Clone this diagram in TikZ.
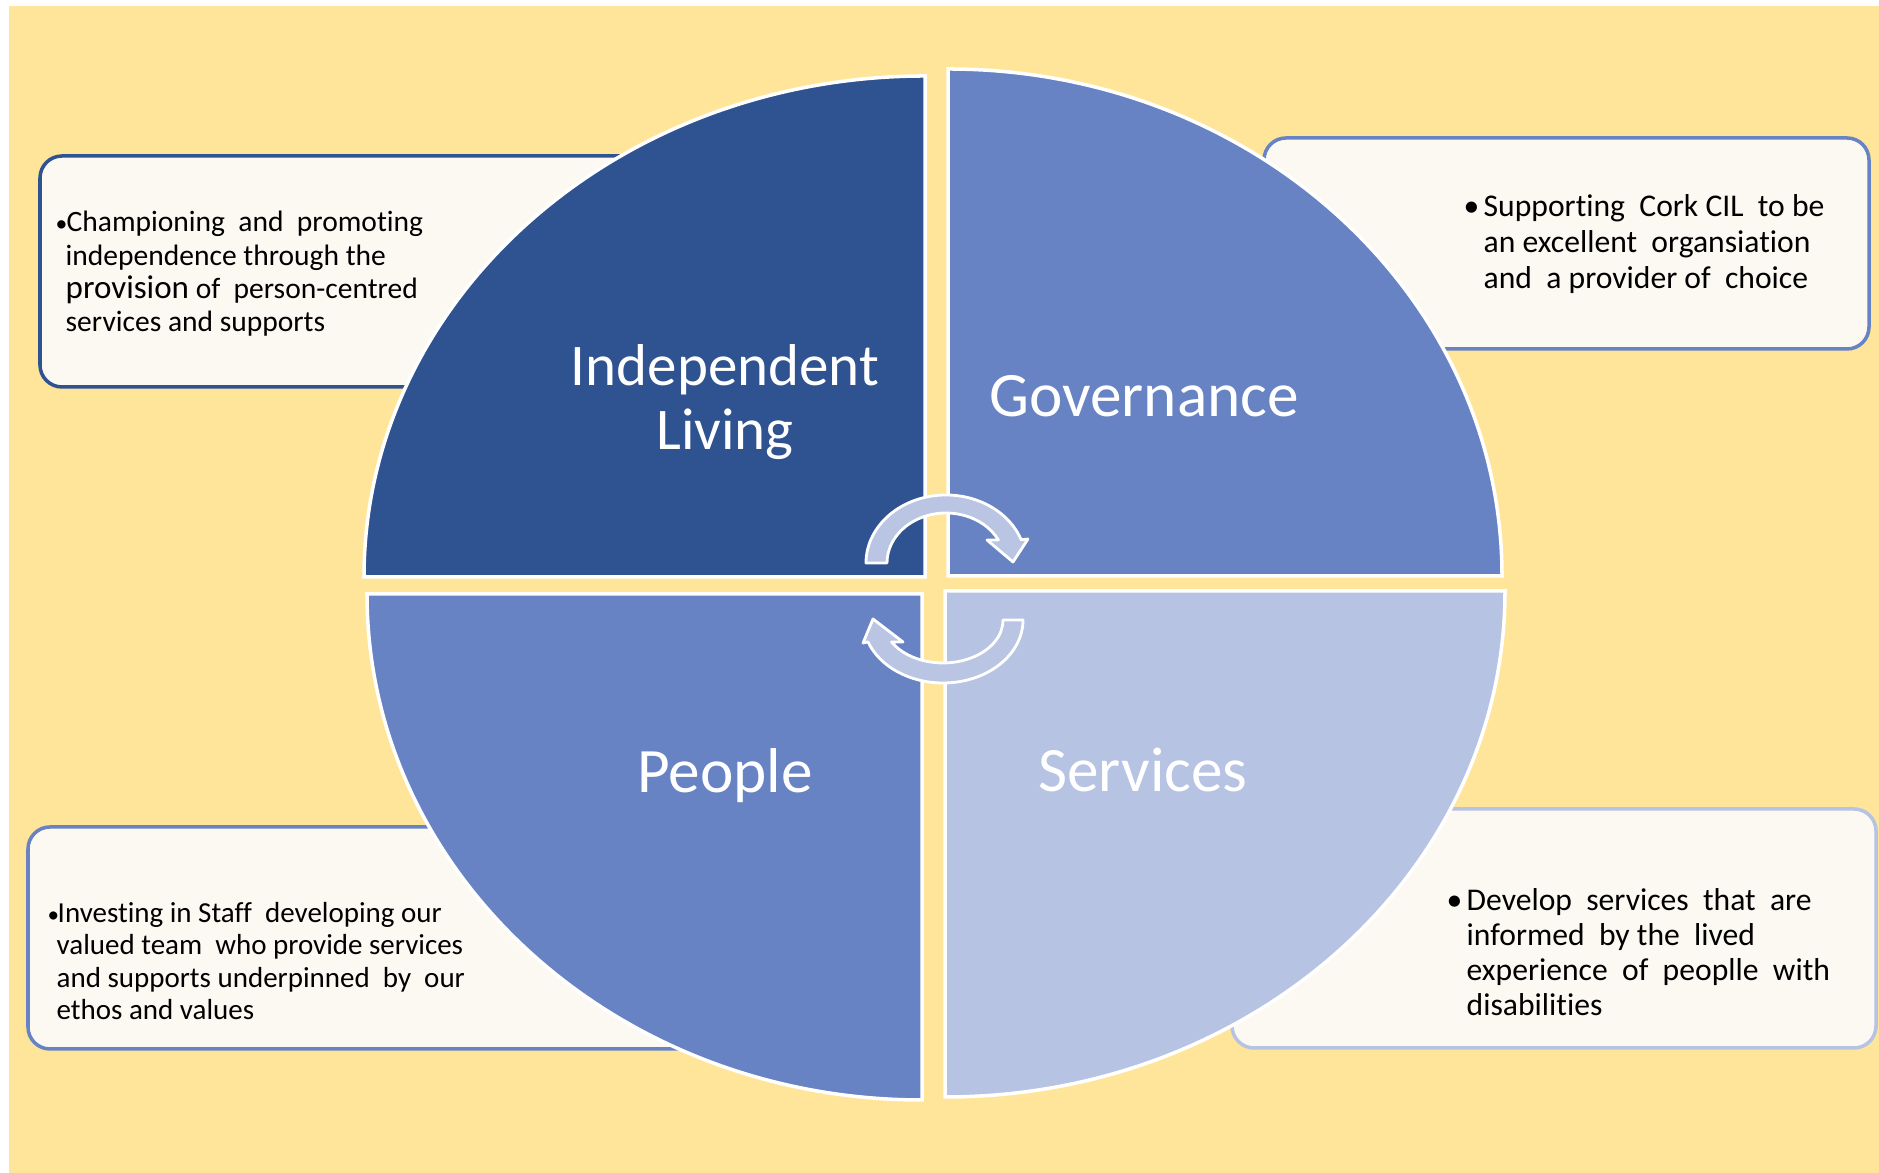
\documentclass[tikz,border=0pt]{standalone}
\usepackage{fontspec}
\setmainfont{Carlito}[Ligatures=NoCommon]
\usepackage{graphicx}
\usepackage{tikz}

\definecolor{bgyellow}{HTML}{FFE599}
\definecolor{cream}{HTML}{FCF9F2}
\definecolor{darkblue}{HTML}{2F5290}
\definecolor{midblue}{HTML}{6783C4}
\definecolor{paleblue}{HTML}{B7C3E2}
\definecolor{arrowblue}{HTML}{B9C5E3}

\newcommand{\dotmark}[2][0.8]{\makebox[#2][l]{\scalebox{#1}{•}}}

\begin{document}
\begin{tikzpicture}[
    quad/.style={draw=white, line width=1pt},
    infobox/.style={fill=cream, line width=1pt, rounded corners=2.2mm},
    title/.style={text=white, font=\fontsize{18}{18.5}\selectfont, align=center},
    note/.style={inner sep=0pt, anchor=west, align=left},
    cyclearrow/.style={fill=arrowblue, draw=white, line width=0.8pt, line join=round}
]
% page
\useasboundingbox (0,0) rectangle (18.79,11.73);
\fill[white] (0,0) rectangle (18.79,11.73);
\fill[bgyellow] (0.09,0) rectangle (18.79,11.67);

% boxes sit behind the wheel
\draw[infobox, draw=darkblue] (0.40,7.86) rectangle (7.00,10.17);
\draw[infobox, draw=midblue] (12.64,8.24) rectangle (18.69,10.35);
\draw[infobox, draw=midblue] (0.28,1.24) rectangle (7.60,3.46);
\draw[infobox, draw=paleblue] (12.32,1.25) rectangle (18.76,3.64);

% the four quarters
\filldraw[quad, fill=darkblue] (9.25,5.96) -- (3.64,5.96)
    arc[start angle=180, end angle=90, x radius=5.61, y radius=5.01] -- cycle;
\filldraw[quad, fill=midblue] (9.48,5.97) -- (9.48,11.04)
    arc[start angle=90, end angle=0, x radius=5.54, y radius=5.07] -- cycle;
\filldraw[quad, fill=midblue] (9.22,5.79) -- (9.22,0.73)
    arc[start angle=270, end angle=180, x radius=5.55, y radius=5.06] -- cycle;
\filldraw[quad, fill=paleblue] (9.45,5.82) -- (15.05,5.82)
    arc[start angle=0, end angle=-90, x radius=5.60, y radius=5.06] -- cycle;

\node[title, font=\fontsize{16.8}{18.2}\selectfont] (living) at (7.25,7.71) {Independent\\Living};
\node[title] (gov) at (11.44,7.77) {Governance};
\node[title] (people) at (7.25,3.97) {People};
\node[title] (services) at (11.43,4.03) {Services};

% bullet texts
\node[note, font=\fontsize{8.4}{9.5}\selectfont] (living note) at (0.55,8.99)
    {\dotmark{1.1mm}Championing\ \ and\ \ promoting\\
     \hspace*{1.0mm}independence through the\\
     \hspace*{1.0mm}{\fontsize{9.4}{9.5}\selectfont provision} of\ \ person-centred\\
     \hspace*{1.0mm}services and supports};
\node[note, font=\fontsize{9}{10.2}\selectfont] (gov note) at (14.63,9.29)
    {\dotmark[1]{2mm}Supporting\ \ Cork CIL\ \ to be\\
     \hspace*{2mm}an excellent\ \ organsiation\\
     \hspace*{2mm}and\ \ a provider of\ \ choice};
\node[note, font=\fontsize{8.25}{9.2}\selectfont] (people note) at (0.47,2.12)
    {\dotmark{1mm}Investing in Staff\ \ developing our\\
     \hspace*{0.9mm}valued team\ \ who provide services\\
     \hspace*{0.9mm}and supports underpinned\ \ by\ \ our\\
     \hspace*{0.9mm}ethos and values};
\node[note, font=\fontsize{9}{9.9}\selectfont] (services note) at (14.46,2.21)
    {\dotmark[1]{2mm}Develop\ \ services\ \ that\ \ are\\
     \hspace*{2mm}informed\ \ by the\ \ lived\\
     \hspace*{2mm}experience\ \ of\ \ peoplle\ \ with\\
     \hspace*{2mm}disabilities};

% arrows round the middle
\filldraw[cyclearrow] (8.66,6.10)
    arc[start angle=180, end angle=20, x radius=0.80, y radius=0.68]
    -- (10.28,6.34) -- (10.13,6.11) -- (9.87,6.33) -- (9.984,6.33)
    arc[start angle=27.4, end angle=180, x radius=0.59, y radius=0.50] -- cycle;
\filldraw[cyclearrow] (10.23,5.53)
    arc[start angle=0, end angle=-159.6, x radius=0.80, y radius=0.63]
    -- (8.63,5.30) -- (8.73,5.54) -- (9.03,5.31) -- (8.915,5.31)
    arc[start angle=-149.2, end angle=0, x radius=0.60, y radius=0.43] -- cycle;
\end{tikzpicture}
\end{document}
